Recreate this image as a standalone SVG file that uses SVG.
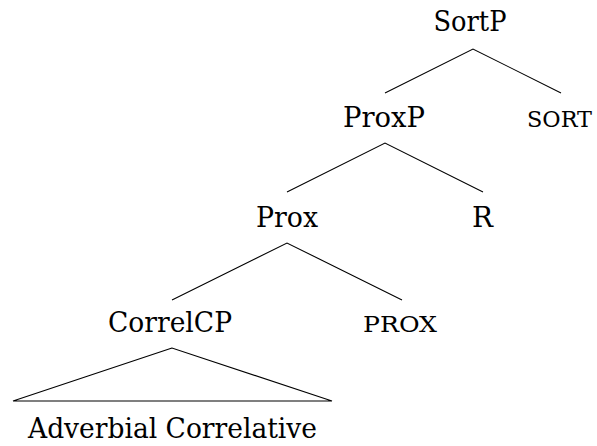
<svg xmlns="http://www.w3.org/2000/svg" width="597" height="446" viewBox="0 0 597 446">
<style>
.t{font-family:"DejaVu Serif","Liberation Serif",serif;font-size:28px;fill:#000;text-anchor:middle}
.sc{font-family:"DejaVu Serif","Liberation Serif",serif;font-size:22px;fill:#000;text-anchor:middle}
.e{stroke:#000;stroke-width:1.1;fill:none}
</style>
<rect width="597" height="446" fill="#fff"/>
<g id="SortP"><text class="t" x="470" y="31" textLength="73" lengthAdjust="spacingAndGlyphs">SortP</text></g>
<g id="ProxP"><text class="t" x="384" y="127" textLength="82" lengthAdjust="spacingAndGlyphs">ProxP</text></g>
<g id="sort"><text class="sc" x="559.5" y="127" textLength="65" lengthAdjust="spacingAndGlyphs">SORT</text></g>
<g id="Prox"><text class="t" x="287" y="227" textLength="62" lengthAdjust="spacingAndGlyphs">Prox</text></g>
<g id="R"><text class="t" x="482.5" y="227" textLength="21" lengthAdjust="spacingAndGlyphs">R</text></g>
<g id="CorrelCP"><text class="t" x="170" y="332" textLength="124" lengthAdjust="spacingAndGlyphs">CorrelCP</text></g>
<g id="prox"><text class="sc" x="400" y="332" textLength="74" lengthAdjust="spacingAndGlyphs">PROX</text></g>
<g id="Adverbial"><text class="t" x="172.5" y="438" textLength="289" lengthAdjust="spacingAndGlyphs">Adverbial Correlative</text></g>
<g id="connectors">
<path class="e" d="M385,93 L473,49 L561,93"/>
<path class="e" d="M287,192 L385,143 L483,192"/>
<path class="e" d="M172,300 L287,243 L402,300"/>
<path class="e" d="M172,348 L13,401 L332,401 Z" stroke-linejoin="miter"/>
</g>
</svg>
